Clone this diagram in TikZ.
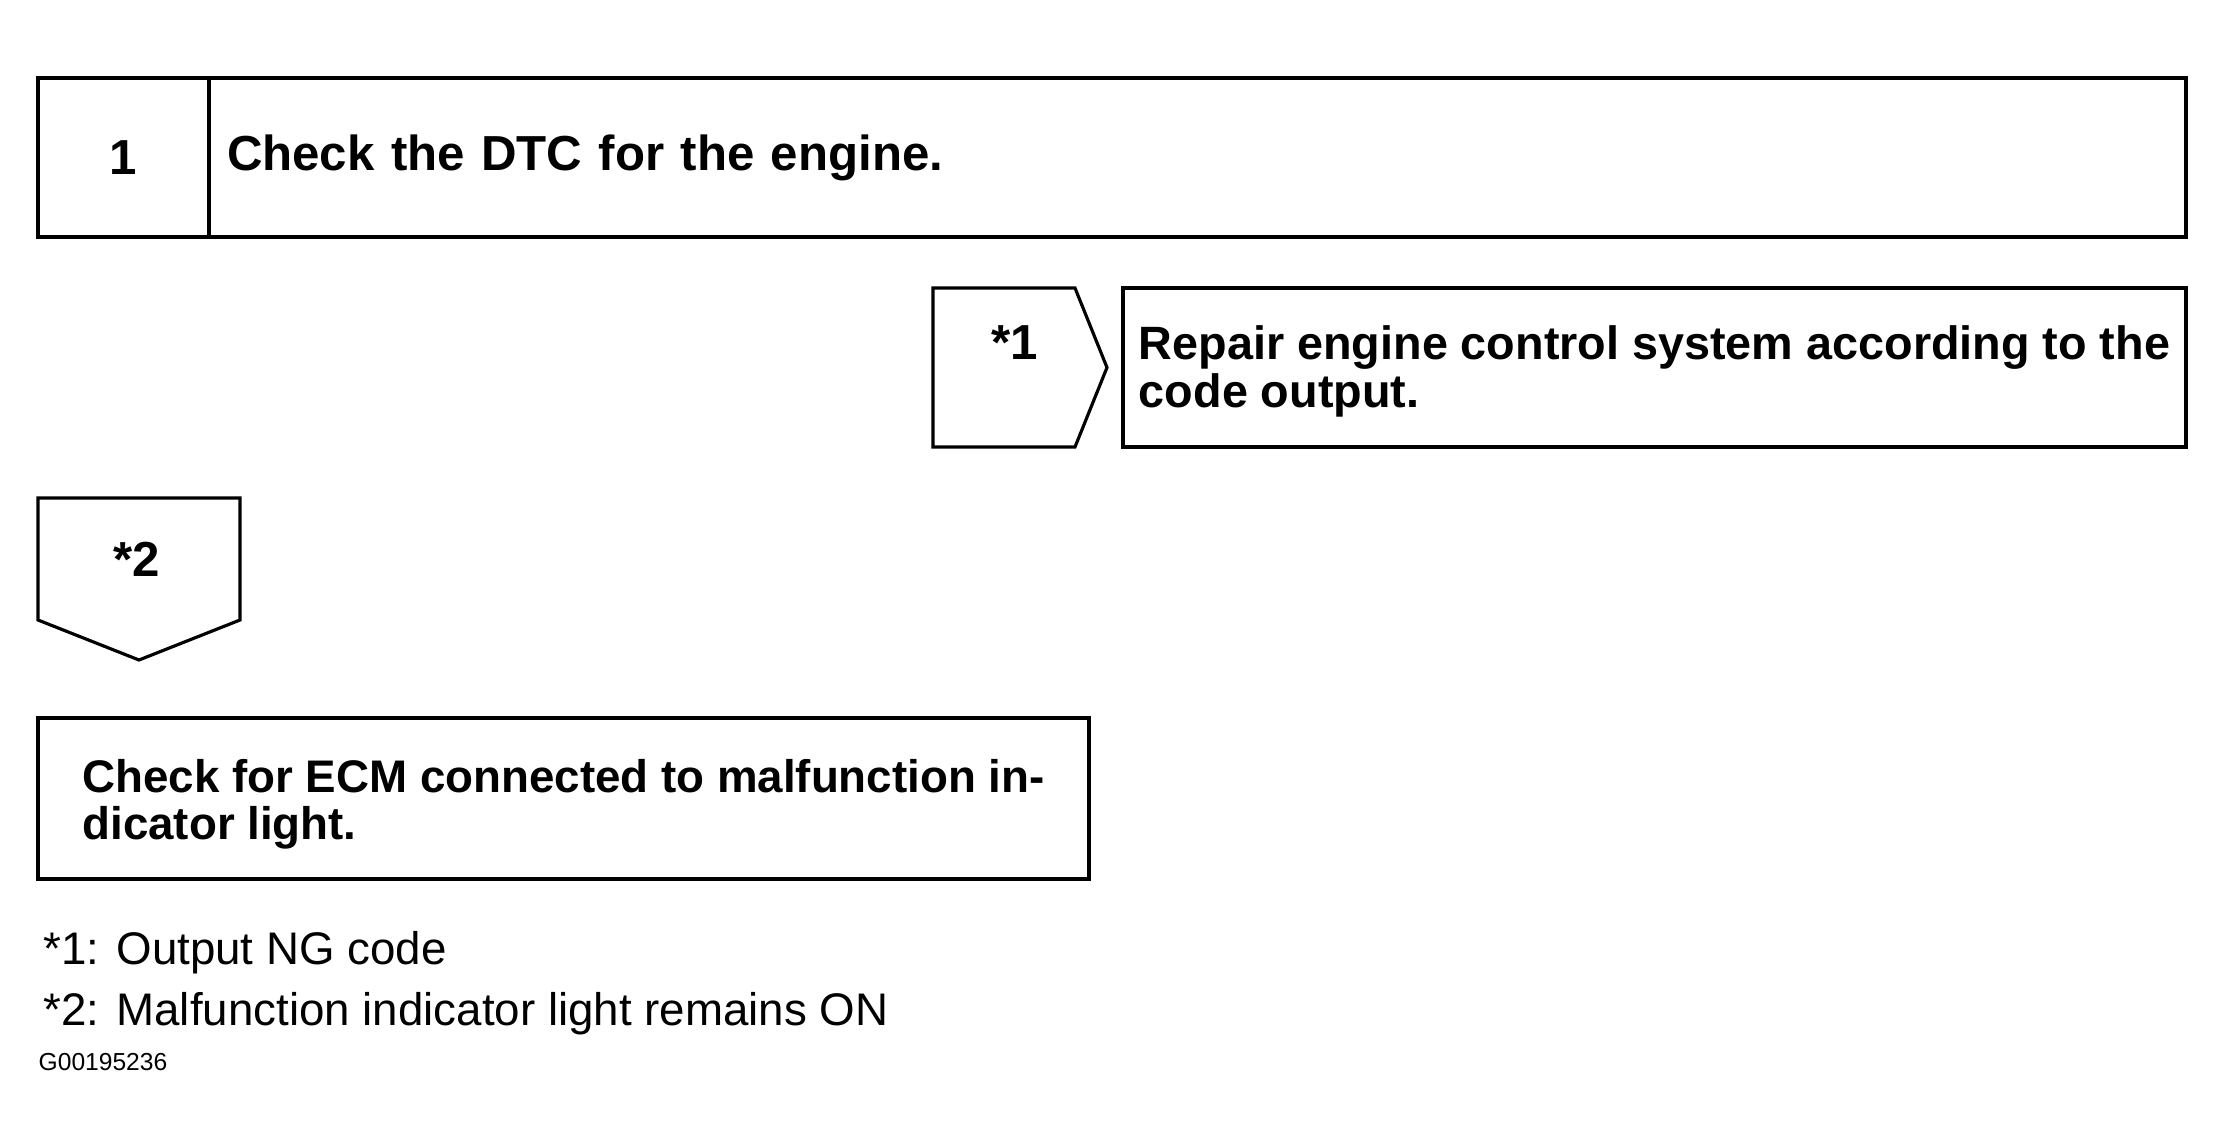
\documentclass[tikz,border=0pt]{standalone}
\usepackage{fontspec}
\setmainfont{Liberation Sans}
\usetikzlibrary{positioning, calc}

\begin{document}
\begin{tikzpicture}[x=1mm,y=-1mm,
    riquadro/.style={draw,line width=0.9pt,outer sep=0pt,inner sep=0pt,font=\fontsize{14}{13.5}\selectfont\bfseries},
    freccia/.style={draw,line width=0.9pt,line join=miter},
    etichetta/.style={inner sep=0pt,align=left,font=\fontsize{14}{13.5}\selectfont\bfseries},
    nota/.style={anchor=west,inner sep=0pt,font=\fontsize{13}{15}\selectfont}]
    \useasboundingbox (0,0) rectangle (222.6,114.6);
    % Passo 1
    \node[riquadro,minimum width=17.1mm,minimum height=15.9mm] (num) at (12.35,15.75) {1};
    \node[riquadro,minimum width=197.7mm,minimum height=15.9mm,text width=194.1mm,
          inner xsep=1.8mm,align=left,right=0pt of num] (titolo) {Check the DTC for the engine.};
    % Uscita *1
    \draw[freccia] (93.3,28.8) -- (107.5,28.8) -- (110.7,36.75) -- (107.5,44.7) -- (93.3,44.7) -- cycle;
    \node[etichetta] (u1) at (101.5,34.3) {*1};
    \node[riquadro,minimum width=106.3mm,minimum height=15.9mm] (ripara) at (165.45,36.75) {};
    \node[etichetta,font=\fontsize{13.3}{13.5}\selectfont\bfseries] (riparatxt)
        at ([yshift=-0.4mm]ripara.center) {Repair engine control system according to the\\code output.};
    % Uscita *2
    \draw[freccia] (3.8,49.8) -- (24,49.8) -- (24,62) -- (13.9,66) -- (3.8,62) -- cycle;
    \node[etichetta] (u2) at (13.7,55.9) {*2};
    \node[riquadro,minimum width=105.1mm,minimum height=16.1mm] (ecm) at (56.35,79.85) {};
    \node[etichetta,font=\fontsize{13}{13.5}\selectfont\bfseries] (ecmtxt)
        at ([yshift=-0.6mm]ecm.center) {Check for ECM connected to malfunction in-\\dicator light.};
    % Note
    \node[nota] (n1) at (4.3,95.3) {*1: Output NG code};
    \node[nota] (n2) at (4.3,101.4) {*2: Malfunction indicator light remains ON};
    \node[nota,font=\fontsize{7}{8}\selectfont] (cod) at (3.8,106.2) {G00195236};
\end{tikzpicture}
\end{document}
